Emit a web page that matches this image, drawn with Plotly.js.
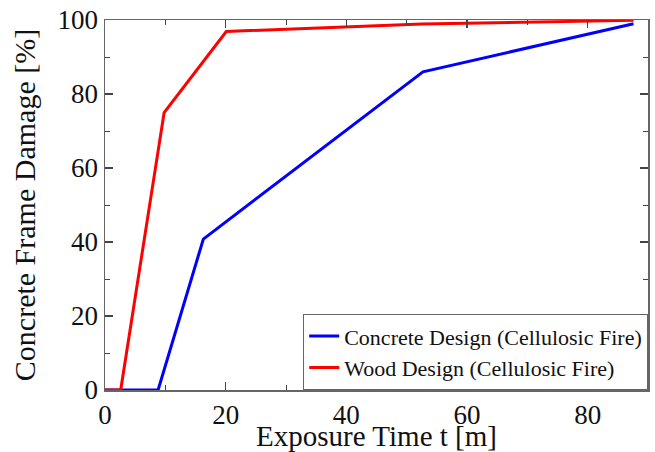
<!DOCTYPE html>
<html><head><meta charset="utf-8">
<script src="https://cdn.plot.ly/plotly-3.0.1.min.js"></script>
<style>html,body{margin:0;padding:0;background:#fff}#chart{width:655px;height:452px}</style>
</head><body><div id="chart"></div>
<script>
const concreteTime = [0, 8.8, 16.3, 52.7, 87.6];
const concreteDamage = [0, 0, 40.8, 86, 99];
const woodTime = [0, 2.6, 9.8, 20.1, 52.5, 87.6];
const woodDamage = [0, 0, 75, 96.9, 98.9, 99.9];
const seriesNames = ['Concrete Design (Cellulosic Fire)', 'Wood Design (Cellulosic Fire)'];

const font = "Liberation Serif";
const axisCommon = {
  showline: true, linecolor: '#666', linewidth: 1.5, mirror: 'ticks',
  ticks: 'inside', ticklen: 8, tickwidth: 1.3, tickcolor: '#444',
  showgrid: false, zeroline: false, automargin: false,
  tickfont: {family: font, size: 27, color: '#111'},
  minor: {ticks: 'inside', ticklen: 5, tickwidth: 1, tickcolor: '#444', dtick: 10}
};
const data = [
  {x: concreteTime, y: concreteDamage, name: seriesNames[0], mode: 'lines',
   line: {color: '#0000ff', width: 3}},
  {x: woodTime, y: woodDamage, name: seriesNames[1], mode: 'lines',
   line: {color: '#ff0000', width: 3}}
];
const layout = {
  width: 655, height: 452,
  margin: {l: 105, r: 7, t: 20, b: 62},
  paper_bgcolor: '#fff', plot_bgcolor: '#fff',
  font: {family: font},
  showlegend: true,
  legend: {x: 1, xanchor: 'right', y: 0, yanchor: 'bottom',
    bordercolor: '#666', borderwidth: 1.2, bgcolor: '#fff',
    font: {family: font, size: 22, color: '#111'}, tracegroupgap: 0},
  xaxis: Object.assign({}, axisCommon, {range: [0, 90], dtick: 20, tick0: 0,
    title: {text: 'Exposure Time t [m]', font: {family: font, size: 29, color: '#111'}}}),
  yaxis: Object.assign({}, axisCommon, {range: [0, 100], dtick: 20, tick0: 0,
    title: {text: 'Concrete Frame Damage [%]', font: {family: font, size: 30, color: '#111'}}})
};
Plotly.newPlot('chart', data, layout, {displayModeBar: false, staticPlot: true});
</script></body></html>
